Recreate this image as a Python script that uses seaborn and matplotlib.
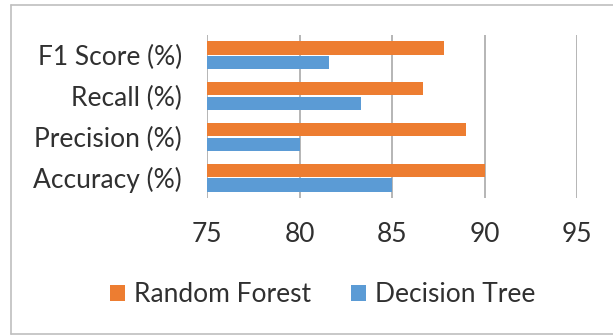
import matplotlib
matplotlib.use('Agg')
import matplotlib.pyplot as plt
import pandas as pd
import seaborn as sns
from matplotlib.lines import Line2D
from matplotlib.patches import Patch

# data
metrics = ['F1 Score (%)', 'Recall (%)', 'Precision (%)', 'Accuracy (%)']
random_forest = [87.8, 86.7, 89.0, 90.0]
decision_tree = [81.6, 83.3, 80.0, 85.0]
models = ['Random Forest', 'Decision Tree']
colors = ['#ED7D31', '#5B9BD5']

df = pd.DataFrame({
    'metric': metrics * 2,
    'value': random_forest + decision_tree,
    'model': [models[0]] * 4 + [models[1]] * 4,
})

sns.set_style('white')
plt.rcParams['font.family'] = ['Lato', 'DejaVu Sans']

fig = plt.figure(figsize=(6.13, 3.36), dpi=100)
ax = fig.add_axes([207 / 613, 1 - 198 / 336, 370 / 613, 163 / 336])

sns.barplot(data=df, x='value', y='metric', hue='model', order=metrics,
            hue_order=models, palette=colors, orient='h', width=0.72,
            gap=0.1, saturation=1, edgecolor='none', linewidth=0,
            ax=ax, legend=False)

ax.set_xlim(75, 95)
ax.set_ylim(3.5, -0.5)
ax.set_xticks([75, 80, 85, 90, 95])
ax.xaxis.grid(True, color='#b0b0b0', linewidth=1.3)
ax.set_axisbelow(True)
for s in ax.spines.values():
    s.set_visible(False)
ax.tick_params(axis='both', length=0, labelsize=19, colors='#303030')
ax.tick_params(axis='x', pad=17)
ax.tick_params(axis='y', pad=18)
ax.set_xlabel('')
ax.set_ylabel('')

handles = [Patch(facecolor=c, edgecolor='none') for c in colors]
fig.legend(handles, models, loc='center', bbox_to_anchor=(323 / 613, 1 - 295 / 336),
           ncol=2, frameon=False, fontsize=19, handlelength=0.57, handleheight=0.57,
           handletextpad=0.34, columnspacing=1.5, labelcolor='#303030')

# chart border
bc = '#bfbfbf'
fig.add_artist(Line2D([11 / 613, 11 / 613], [1 - 5 / 336, 1 - 334 / 336], color=bc, lw=1.2))
fig.add_artist(Line2D([11 / 613, 1], [1 - 5 / 336, 1 - 5 / 336], color=bc, lw=1.2))
fig.add_artist(Line2D([11 / 613, 1], [1 - 334 / 336, 1 - 334 / 336], color=bc, lw=1.2))

fig.savefig('out.png', dpi=100)
